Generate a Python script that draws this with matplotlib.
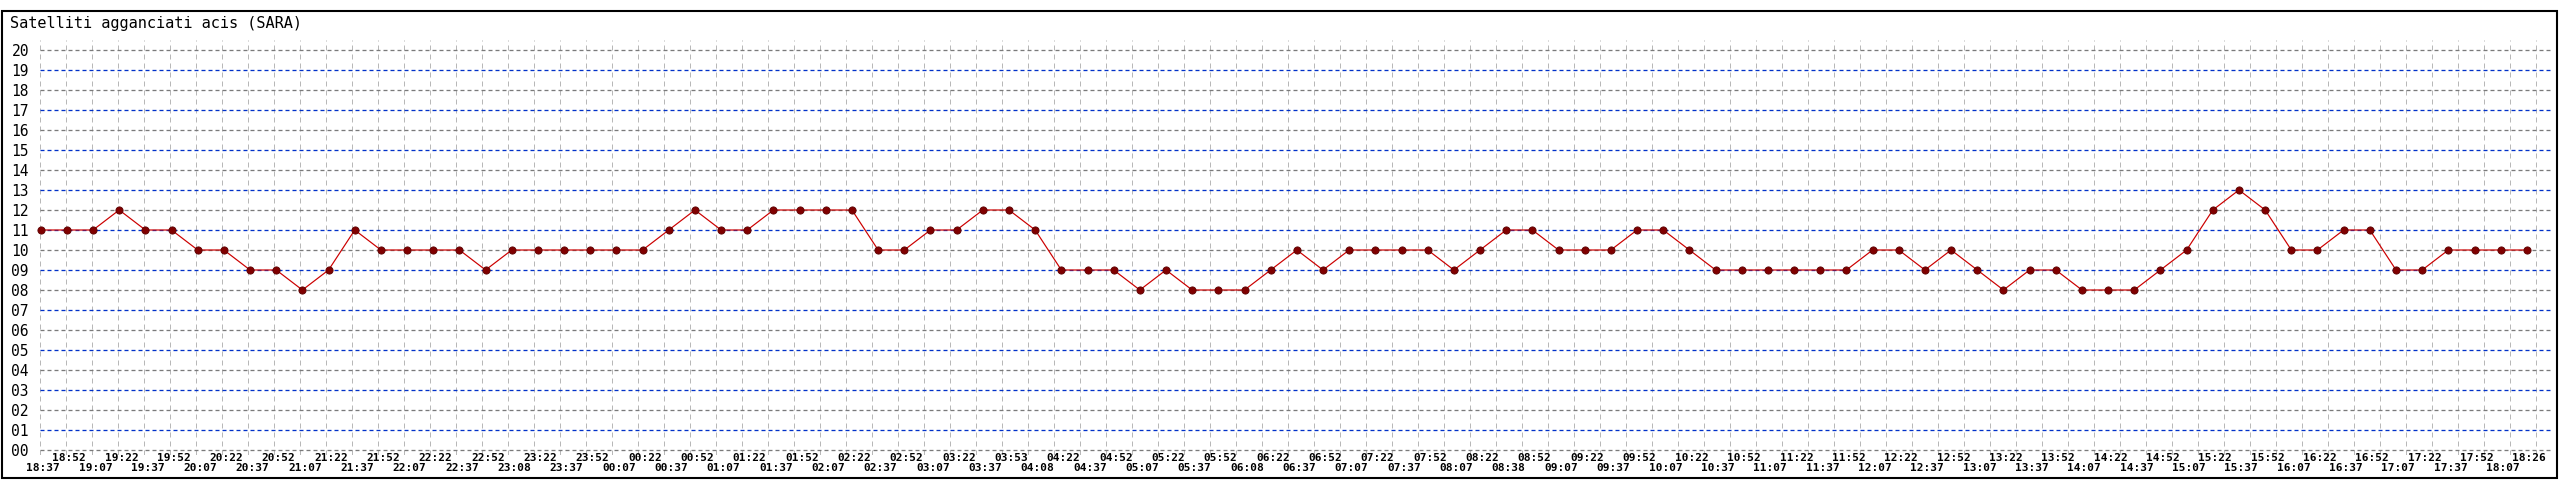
import matplotlib
matplotlib.use("Agg")
import matplotlib.pyplot as plt
from matplotlib.patches import Rectangle
from matplotlib.transforms import blended_transform_factory

title = "Satelliti agganciati acis (SARA)"

times = ["18:37","18:52","19:07","19:22","19:37","19:52","20:07","20:22","20:37","20:52",
         "21:07","21:22","21:37","21:52","22:07","22:22","22:37","22:52","23:08","23:22",
         "23:37","23:52","00:07","00:22","00:37","00:52","01:07","01:22","01:37","01:52",
         "02:07","02:22","02:37","02:52","03:07","03:22","03:37","03:53","04:08","04:22",
         "04:37","04:52","05:07","05:22","05:37","05:52","06:08","06:22","06:37","06:52",
         "07:07","07:22","07:37","07:52","08:07","08:22","08:38","08:52","09:07","09:22",
         "09:37","09:52","10:07","10:22","10:37","10:52","11:07","11:22","11:37","11:52",
         "12:07","12:22","12:37","12:52","13:07","13:22","13:37","13:52","14:07","14:22",
         "14:37","14:52","15:07","15:22","15:37","15:52","16:07","16:22","16:37","16:52",
         "17:07","17:22","17:37","17:52","18:07","18:26"]

satellites = [11,11,11,12,11,11,10,10,9,9,8,9,11,10,
              10,10,10,9,10,10,10,10,10,10,11,12,11,11,12,12,12,12,10,
              10,11,11,12,12,11,9,9,9,8,9,8,8,8,9,10,9,10,10,10,
              10,9,10,11,11,10,10,10,11,11,10,9,9,9,9,9,9,10,10,
              9,10,9,8,9,9,8,8,8,9,10,12,13,12,10,10,11,11,9,9,10,10,10,10]

y_ticks = list(range(0, 21))

W, H = 2560, 480
fig = plt.figure(figsize=(W / 100, H / 100), dpi=100)
fig.patch.set_facecolor("white")

# layout in pixels
ax_left, ax_right, ax_top, ax_bottom = 40, 2552, 40, 455
x0_px, step_px = 40.7, 26.17
ax = fig.add_axes([ax_left / W, (H - ax_bottom) / H,
                   (ax_right - ax_left) / W, (ax_bottom - ax_top) / H])
ax.set_xlim((ax_left - x0_px) / step_px, (ax_right - x0_px) / step_px)
ax.set_ylim(-0.25, 20.5)
for s in ax.spines.values():
    s.set_visible(False)
ax.set_xticks([])

px = 0.72  # one pixel in points

# vertical grid (regular 26px spacing)
for k in range(97):
    gx = (ax_left + 26 * k - x0_px) / step_px
    ax.axvline(gx, color="#b8b8b8", lw=1 * px, dashes=(5, 4), zorder=1)

# horizontal grid
for v in y_ticks:
    col = "#0030c8" if v % 2 == 1 else "#7a7a7a"
    ax.axhline(v, color=col, lw=1.3 * px, dashes=(4 / 1.3, 3 / 1.3), zorder=2)

xs = list(range(len(satellites)))
ax.plot(xs, satellites, color="#cc0000", lw=1.2 * px, zorder=3, clip_on=False)
ax.plot(xs, satellites, linestyle="none", marker="o", markersize=5.2,
        markerfacecolor="#800000", markeredgecolor="#5a0000", markeredgewidth=0.6,
        zorder=4, clip_on=False)

# y tick labels
ax.set_yticks(y_ticks)
ax.set_yticklabels([f"{v:02d}" for v in y_ticks], family="DejaVu Sans Mono",
                   fontsize=10.5, fontweight="medium")
ax.tick_params(axis="y", length=0, pad=8.0)

# x labels, two alternating rows
trans = blended_transform_factory(ax.transData, fig.transFigure)
for i, t in enumerate(times):
    ypx = 461 if i % 2 == 1 else 471
    ax.text(i + 0.09, (H - ypx) / H, t, transform=trans, ha="center", va="baseline",
            family="DejaVu Sans Mono", fontweight="bold", fontsize=8, clip_on=False)

# title
fig.text(10 / W, (H - 28) / H, title, family="DejaVu Sans Mono", fontsize=11,
         ha="left", va="baseline")

# frame
fig.add_artist(Rectangle((2 / W, 2 / H), (2557 - 2) / W, (478 - 11) / H,
                         transform=fig.transFigure, fill=False, edgecolor="black",
                         lw=1.5))

fig.savefig("out.png", dpi=100, facecolor="white")
